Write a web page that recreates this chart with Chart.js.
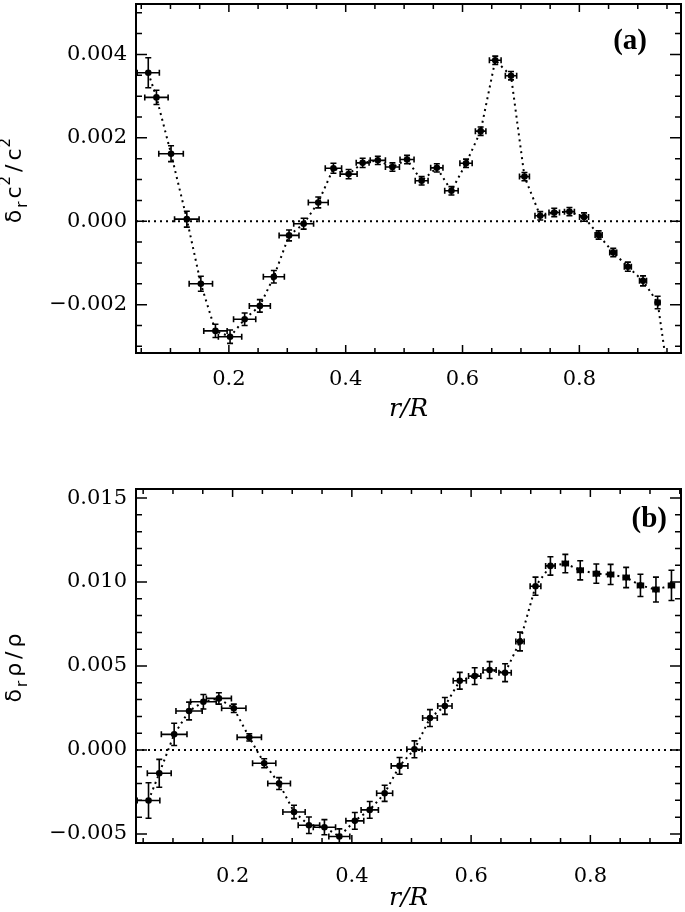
<!DOCTYPE html>
<html>
<head>
<meta charset="utf-8">
<script src="https://cdn.jsdelivr.net/npm/chart.js@4.4.1/dist/chart.umd.min.js"></script>
<style>
  html, body { margin: 0; padding: 0; background: #fff; }
  .panel { position: absolute; left: 0; width: 685px; height: 456px; }
</style>
</head>
<body>
<div class="panel" style="top:0"><canvas id="chartA"></canvas></div>
<div class="panel" style="top:456px"><canvas id="chartB"></canvas></div>
<script>
// panel (a): sound speed difference
const radiusA = [0.062, 0.076, 0.101, 0.128, 0.152, 0.177, 0.202, 0.227, 0.253, 0.277, 0.303, 0.328,
  0.353, 0.379, 0.405, 0.429, 0.455, 0.480, 0.505, 0.530, 0.556, 0.581, 0.606, 0.631,
  0.656, 0.683, 0.706, 0.733, 0.757, 0.783, 0.808, 0.833, 0.858, 0.883, 0.909, 0.934, 0.959];
const soundA = [0.00356, 0.00297, 0.00162, 0.00005, -0.00150, -0.00263, -0.00277, -0.00235, -0.00203,
  -0.00133, -0.00034, -0.00006, 0.00045, 0.00127, 0.00113, 0.00140, 0.00146, 0.00130, 0.00148,
  0.00097, 0.00128, 0.00073, 0.00139, 0.00216, 0.00386, 0.00349, 0.00107, 0.00013, 0.00021,
  0.00023, 0.00010, -0.00033, -0.00075, -0.00109, -0.00143, -0.00195, -0.00440];
const radiusErrA = [0.019, 0.020, 0.021, 0.021, 0.020, 0.020, 0.020, 0.019, 0.018, 0.018, 0.017, 0.017,
  0.017, 0.014, 0.0145, 0.011, 0.013, 0.012, 0.012, 0.011, 0.0105, 0.0115, 0.0105, 0.009,
  0.010, 0.0097, 0.0085, 0.009, 0.009, 0.0085, 0.0077, 0.006, 0.006, 0.006, 0.006, 0.004, 0.004];
const soundErrA = [0.00036, 0.00017, 0.00019, 0.00019, 0.00018, 0.00016, 0.00016, 0.00015, 0.00015,
  0.00015, 0.00013, 0.00013, 0.00013, 0.00012, 0.00011, 0.00011, 0.0001, 0.0001, 0.0001,
  0.0001, 0.0001, 0.0001, 0.0001, 0.0001, 0.0001, 0.0001, 0.0001, 0.0001, 0.0001,
  0.0001, 0.0001, 0.0001, 0.0001, 0.00011, 0.00012, 0.00015, 0.0002];

// panel (b): density difference
const radiusB = [0.059, 0.077, 0.102, 0.127, 0.151, 0.177, 0.202, 0.228, 0.253, 0.278, 0.303, 0.328,
  0.354, 0.379, 0.405, 0.430, 0.455, 0.480, 0.505, 0.531, 0.556, 0.581, 0.606, 0.631,
  0.657, 0.682, 0.708, 0.733, 0.758, 0.783, 0.810, 0.834, 0.860, 0.884, 0.910, 0.936];
const densityB = [-0.00301, -0.00139, 0.00093, 0.00232, 0.00287, 0.00307, 0.00248, 0.00075, -0.00079,
  -0.00200, -0.00369, -0.00448, -0.00460, -0.00515, -0.00422, -0.00357, -0.00258, -0.00095,
  0.00004, 0.00190, 0.00262, 0.00412, 0.00440, 0.00476, 0.00460, 0.00646, 0.00975, 0.01096,
  0.01110, 0.01070, 0.01050, 0.01045, 0.01027, 0.00980, 0.00955, 0.00980];
const radiusErrB = [0.019, 0.020, 0.0215, 0.022, 0.0215, 0.021, 0.0204, 0.0204, 0.0195, 0.019, 0.0187, 0.018,
  0.0187, 0.0176, 0.015, 0.0145, 0.0134, 0.014, 0.0128, 0.0123, 0.012, 0.011, 0.0103, 0.011,
  0.0103, 0.007, 0.009, 0.008, 0.005, 0.005, 0.005, 0.005, 0.005, 0.005, 0.005, 0.005];
const densityErrB = [0.00106, 0.00083, 0.00066, 0.00053, 0.00043, 0.00034, 0.00025, 0.00022, 0.00027,
  0.00035, 0.0004, 0.00049, 0.00045, 0.00045, 0.0005, 0.0005, 0.00048, 0.0005, 0.0005, 0.0005,
  0.0005, 0.0005, 0.0005, 0.0005, 0.00053, 0.00056, 0.00054, 0.00055, 0.00055, 0.00057,
  0.00057, 0.0006, 0.0006, 0.00066, 0.00074, 0.0009];

const xTickValues = [0.2, 0.4, 0.6, 0.8];
const yTickValuesA = [-0.002, 0.000, 0.002, 0.004];
const yTickValuesB = [-0.005, 0.000, 0.005, 0.010, 0.015];

const tickFont = { family: "'DejaVu Serif'", size: 21 };

function minorList(min, max, step) {
  const out = [];
  for (let k = Math.ceil(min / step - 1e-9); k * step <= max + 1e-12; k++) out.push(k * step);
  return out;
}

function drawRotatedRich(ctx, parts, cx, cy) {
  ctx.save();
  ctx.translate(cx, cy);
  ctx.rotate(-Math.PI / 2);
  ctx.fillStyle = "#000";
  ctx.textAlign = "left";
  ctx.textBaseline = "alphabetic";
  let total = 0;
  parts.forEach((p) => {
    ctx.font = p.font;
    p.w = ctx.measureText(p.t).width + (p.gap || 0);
    total += p.w;
  });
  let x = -total / 2;
  parts.forEach((p) => {
    ctx.font = p.font;
    ctx.fillText(p.t, x, p.dy || 0);
    x += p.w;
  });
  ctx.restore();
}

function decoPlugin(cfg) {
  return {
    id: "deco",
    beforeDatasetsDraw(chart) {
      const { ctx, chartArea: a, scales: { y } } = chart;
      const y0 = y.getPixelForValue(0);
      ctx.save();
      ctx.strokeStyle = "#000";
      ctx.lineWidth = 2;
      ctx.setLineDash([2, 4]);
      ctx.beginPath();
      ctx.moveTo(a.left, y0);
      ctx.lineTo(a.right, y0);
      ctx.stroke();
      ctx.restore();
    },
    afterDatasetsDraw(chart) {
      const { ctx, chartArea: a, scales: { x, y } } = chart;
      ctx.save();
      ctx.beginPath();
      ctx.rect(a.left, a.top, a.right - a.left, a.bottom - a.top);
      ctx.clip();
      ctx.strokeStyle = "#000";
      ctx.lineWidth = 1.6;
      const cap = 3;
      cfg.xs.forEach((xv, i) => {
        const px = x.getPixelForValue(xv);
        const py = y.getPixelForValue(cfg.ys[i]);
        const xl = x.getPixelForValue(xv - cfg.xe[i]);
        const xr = x.getPixelForValue(xv + cfg.xe[i]);
        const yt = y.getPixelForValue(cfg.ys[i] + cfg.ye[i]);
        const yb = y.getPixelForValue(cfg.ys[i] - cfg.ye[i]);
        ctx.beginPath();
        ctx.moveTo(xl, py); ctx.lineTo(xr, py);
        ctx.moveTo(xl, py - cap); ctx.lineTo(xl, py + cap);
        ctx.moveTo(xr, py - cap); ctx.lineTo(xr, py + cap);
        ctx.moveTo(px, yt); ctx.lineTo(px, yb);
        ctx.moveTo(px - cap, yt); ctx.lineTo(px + cap, yt);
        ctx.moveTo(px - cap, yb); ctx.lineTo(px + cap, yb);
        ctx.stroke();
      });
      ctx.restore();
    },
    afterDraw(chart) {
      const { ctx, chartArea: a, scales: { x, y } } = chart;
      ctx.save();
      ctx.strokeStyle = "#000";
      ctx.lineWidth = 2;
      ctx.strokeRect(a.left, a.top, a.right - a.left, a.bottom - a.top);
      ctx.lineWidth = 1.5;
      ctx.beginPath();
      // x ticks, top and bottom, pointing inward
      minorList(x.min, x.max, 0.05).forEach((v) => {
        const px = x.getPixelForValue(v);
        const len = Math.abs(v / 0.2 - Math.round(v / 0.2)) < 1e-6 ? 8 : 5;
        ctx.moveTo(px, a.bottom); ctx.lineTo(px, a.bottom - len);
        ctx.moveTo(px, a.top); ctx.lineTo(px, a.top + len);
      });
      // y ticks, left and right
      minorList(y.min, y.max, cfg.yMinor).forEach((v) => {
        const py = y.getPixelForValue(v);
        const r = v / cfg.yMajor;
        const len = Math.abs(r - Math.round(r)) < 1e-6 ? 11 : 6;
        ctx.moveTo(a.left, py); ctx.lineTo(a.left + len, py);
        ctx.moveTo(a.right, py); ctx.lineTo(a.right - len, py);
      });
      ctx.stroke();

      // panel tag
      ctx.fillStyle = "#000";
      ctx.font = "bold 29px 'Liberation Serif'";
      ctx.textAlign = "right";
      ctx.textBaseline = "middle";
      ctx.fillText(cfg.tag, cfg.tagX, a.top + cfg.tagDy);

      // x title
      ctx.font = "italic 25px 'DejaVu Serif'";
      ctx.textAlign = "center";
      ctx.textBaseline = "middle";
      ctx.fillText("r/R", (a.left + a.right) / 2, a.bottom + cfg.titleDy);
      ctx.restore();

      drawRotatedRich(ctx, cfg.yTitle, 21, (a.top + a.bottom) / 2 + 2);
    },
  };
}

function makeChart(id, cfg) {
  const points = cfg.xs.map((v, i) => ({ x: v, y: cfg.ys[i] }));
  return new Chart(document.getElementById(id), {
    type: "scatter",
    data: {
      datasets: [{
        data: points,
        showLine: true,
        borderColor: "#000",
        borderWidth: 2,
        borderDash: [2, 4],
        pointRadius: 3.3,
        pointBackgroundColor: "#000",
        pointBorderWidth: 0,
        clip: 0,
      }],
    },
    options: {
      animation: false,
      responsive: true,
      maintainAspectRatio: false,
      layout: { padding: { top: cfg.padTop, right: 3, left: 0, bottom: 0 } },
      plugins: { legend: { display: false }, tooltip: { enabled: false } },
      scales: {
        x: {
          type: "linear",
          min: cfg.xMin,
          max: cfg.xMax,
          afterBuildTicks: (s) => { s.ticks = xTickValues.map((v) => ({ value: v })); },
          afterFit: (s) => {
            s.height = cfg.xHeight;
            s.paddingLeft = 0;
            s.paddingRight = 0;
          },
          grid: { display: false, drawTicks: false },
          border: { display: false },
          ticks: {
            color: "#000",
            font: tickFont,
            padding: cfg.xPad,
            maxRotation: 0,
            autoSkip: false,
            callback: (v) => v.toFixed(1),
          },
        },
        y: {
          type: "linear",
          min: cfg.yMin,
          max: cfg.yMax,
          afterBuildTicks: (s) => { s.ticks = cfg.yTicks.map((v) => ({ value: v })); },
          afterFit: (s) => {
            s.width = 136;
            s.paddingTop = 0;
            s.paddingBottom = 0;
          },
          grid: { display: false, drawTicks: false },
          border: { display: false },
          ticks: {
            color: "#000",
            font: tickFont,
            padding: 9,
            autoSkip: false,
            callback: (v) => (Math.abs(v) < 1e-12 ? "0.000" : v.toFixed(3).replace("-", "\u2212")),
          },
        },
      },
    },
    plugins: [decoPlugin(cfg)],
  });
}

const sansBig = "22px 'DejaVu Sans'";
const sansSub = "15px 'DejaVu Sans'";

makeChart("chartA", {
  xs: radiusA, ys: soundA, xe: radiusErrA, ye: soundErrA,
  xMin: 0.041, xMax: 0.974, yMin: -0.00316, yMax: 0.00521,
  yTicks: yTickValuesA, yMajor: 0.002, yMinor: 0.0005,
  padTop: 1, xHeight: 103, xPad: 14, titleDy: 56,
  tag: "(a)", tagX: 647, tagDy: 38,
  yTitle: [
    { t: "\u03b4", font: sansBig, gap: 2 },
    { t: "r", font: sansSub, dy: 6, gap: 3 },
    { t: "c", font: sansBig, gap: 1 },
    { t: "2", font: sansSub, dy: -11, gap: 4 },
    { t: "/", font: sansBig, gap: 4 },
    { t: "c", font: sansBig, gap: 1 },
    { t: "2", font: sansSub, dy: -11 },
  ],
});

makeChart("chartB", {
  xs: radiusB, ys: densityB, xe: radiusErrB, ye: densityErrB,
  xMin: 0.038, xMax: 0.952, yMin: -0.00554, yMax: 0.01554,
  yTicks: yTickValuesB, yMajor: 0.005, yMinor: 0.001,
  padTop: 33, xHeight: 69, xPad: 21, titleDy: 55,
  tag: "(b)", tagX: 667, tagDy: 31,
  yTitle: [
    { t: "\u03b4", font: sansBig, gap: 2 },
    { t: "r", font: sansSub, dy: 6, gap: 4 },
    { t: "\u03c1", font: sansBig, gap: 4 },
    { t: "/", font: sansBig, gap: 4 },
    { t: "\u03c1", font: sansBig },
  ],
});
</script>
</body>
</html>
